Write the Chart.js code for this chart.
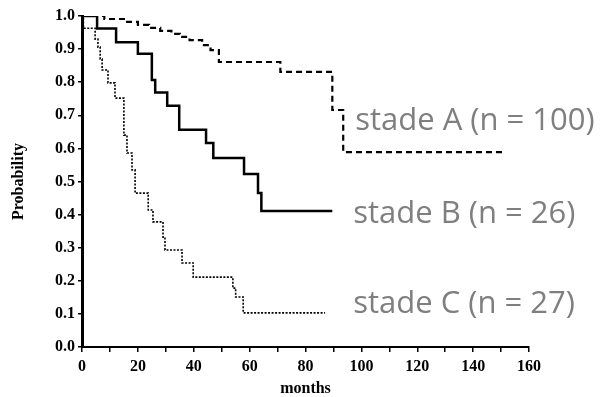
<!DOCTYPE html>
<html>
<head>
<meta charset="utf-8">
<script src="https://cdn.jsdelivr.net/npm/chart.js"></script>
<style>
  html, body { margin: 0; padding: 0; background: #fff; }
  #wrap { width: 613px; height: 397px; }
</style>
</head>
<body>
<div id="wrap"><canvas id="kmChart"></canvas></div>
<script>
// Survival curves (Kaplan-Meier), months vs probability
const monthsA = [0, 8, 15, 20, 24, 28, 32, 35, 38.5, 43, 46, 49, 71, 89.6, 93.5, 150.5];
const probA   = [1.0, 0.991, 0.982, 0.973, 0.964, 0.955, 0.946, 0.937, 0.927, 0.912, 0.897, 0.861, 0.831, 0.716, 0.589, 0.589];

const monthsB = [0, 5.4, 12.2, 20, 25, 26.2, 30.5, 34.8, 44.4, 47, 58, 63, 64.2, 89.6];
const probB   = [1.0, 0.962, 0.921, 0.886, 0.807, 0.769, 0.729, 0.656, 0.616, 0.571, 0.523, 0.465, 0.411, 0.411];

const monthsC = [0, 0.5, 4.7, 5.7, 6.5, 7.2, 9.3, 11.8, 15, 16.1, 17.9, 19, 23.7, 25.4, 29, 29.7, 35.8, 39.8, 54, 55, 57.7, 87];
const probC   = [1.0, 0.963, 0.93, 0.906, 0.87, 0.837, 0.798, 0.752, 0.64, 0.586, 0.535, 0.465, 0.414, 0.378, 0.332, 0.293, 0.254, 0.211, 0.178, 0.151, 0.103, 0.103];

const stageLabels = ['stade A (n = 100)', 'stade B (n = 26)', 'stade C (n = 27)'];
const yTicks = [0, 0.1, 0.2, 0.3, 0.4, 0.5, 0.6, 0.7, 0.8, 0.9, 1.0];
const xTicks = [0, 20, 40, 60, 80, 100, 120, 140, 160];

// turn two arrays into {x, y} points
function toPoints(xs, ys) {
  return xs.map((x, i) => ({ x: x, y: ys[i] }));
}

const serif = { family: '"Liberation Serif", "DejaVu Serif", serif', size: 16, weight: 'bold' };

// writes the grey stage labels next to the curves
const stageText = {
  id: 'stageText',
  afterDatasetsDraw(chart) {
    const { ctx, scales: { x, y } } = chart;
    const spots = [[97.8, 0.656], [97.1, 0.375], [97.1, 0.103]];
    ctx.save();
    ctx.font = '31px "Open Sans", sans-serif';
    ctx.fillStyle = '#7f7f7f';
    ctx.textAlign = 'left';
    ctx.textBaseline = 'alphabetic';
    stageLabels.forEach((txt, i) => {
      ctx.fillText(txt, x.getPixelForValue(spots[i][0]), y.getPixelForValue(spots[i][1]));
    });
    ctx.restore();
  }
};

const kmChart = new Chart(document.getElementById('kmChart').getContext('2d'), {
  type: 'line',
  data: {
    datasets: [
      {
        label: stageLabels[0],
        data: toPoints(monthsA, probA),
        borderColor: '#000',
        borderWidth: 2.2,
        borderDash: [6, 4],
        stepped: 'before',
        pointRadius: 0
      },
      {
        label: stageLabels[1],
        data: toPoints(monthsB, probB),
        borderColor: '#000',
        borderWidth: 2.5,
        stepped: 'before',
        pointRadius: 0
      },
      {
        label: stageLabels[2],
        data: toPoints(monthsC, probC),
        borderColor: '#000',
        borderWidth: 1.6,
        borderDash: [2, 1.5],
        stepped: 'before',
        pointRadius: 0
      }
    ]
  },
  options: {
    responsive: true,
    maintainAspectRatio: false,
    animation: false,
    layout: { padding: { top: 16, right: 84, bottom: 0, left: 0 } },
    plugins: {
      legend: { display: false },
      tooltip: { enabled: false }
    },
    scales: {
      x: {
        type: 'linear',
        min: 0,
        max: 160,
        border: { color: '#000', width: 2 },
        grid: { drawOnChartArea: false, color: '#000', tickLength: 5, lineWidth: 1.5 },
        ticks: {
          stepSize: 10,
          padding: 5,
          color: '#000',
          font: serif,
          maxRotation: 0,
          callback: (v) => xTicks.includes(v) ? String(v) : ''
        },
        title: {
          display: true,
          text: 'months',
          color: '#000',
          font: { family: serif.family, size: 16, weight: 'bold', lineHeight: 1.0 },
          padding: { top: 0, bottom: 0 }
        },
        afterFit(scale) { scale.height = 50; }
      },
      y: {
        min: 0,
        max: 1.0,
        border: { color: '#000', width: 3 },
        grid: { drawOnChartArea: false, color: '#000', tickLength: 4, lineWidth: 1.5 },
        ticks: {
          stepSize: 0.05,
          padding: 3,
          color: '#000',
          font: serif,
          callback: (v) => {
            const r = Math.round(v * 100) / 100;
            return yTicks.some(t => Math.abs(t - r) < 1e-6) ? r.toFixed(1) : '';
          }
        },
        title: {
          display: true,
          text: 'Probability',
          color: '#000',
          font: { family: serif.family, size: 16, weight: 'bold' },
          padding: { top: 9, bottom: 0 }
        },
        afterFit(scale) { scale.width = 82; }
      }
    }
  },
  plugins: [stageText]
});
</script>
</body>
</html>
